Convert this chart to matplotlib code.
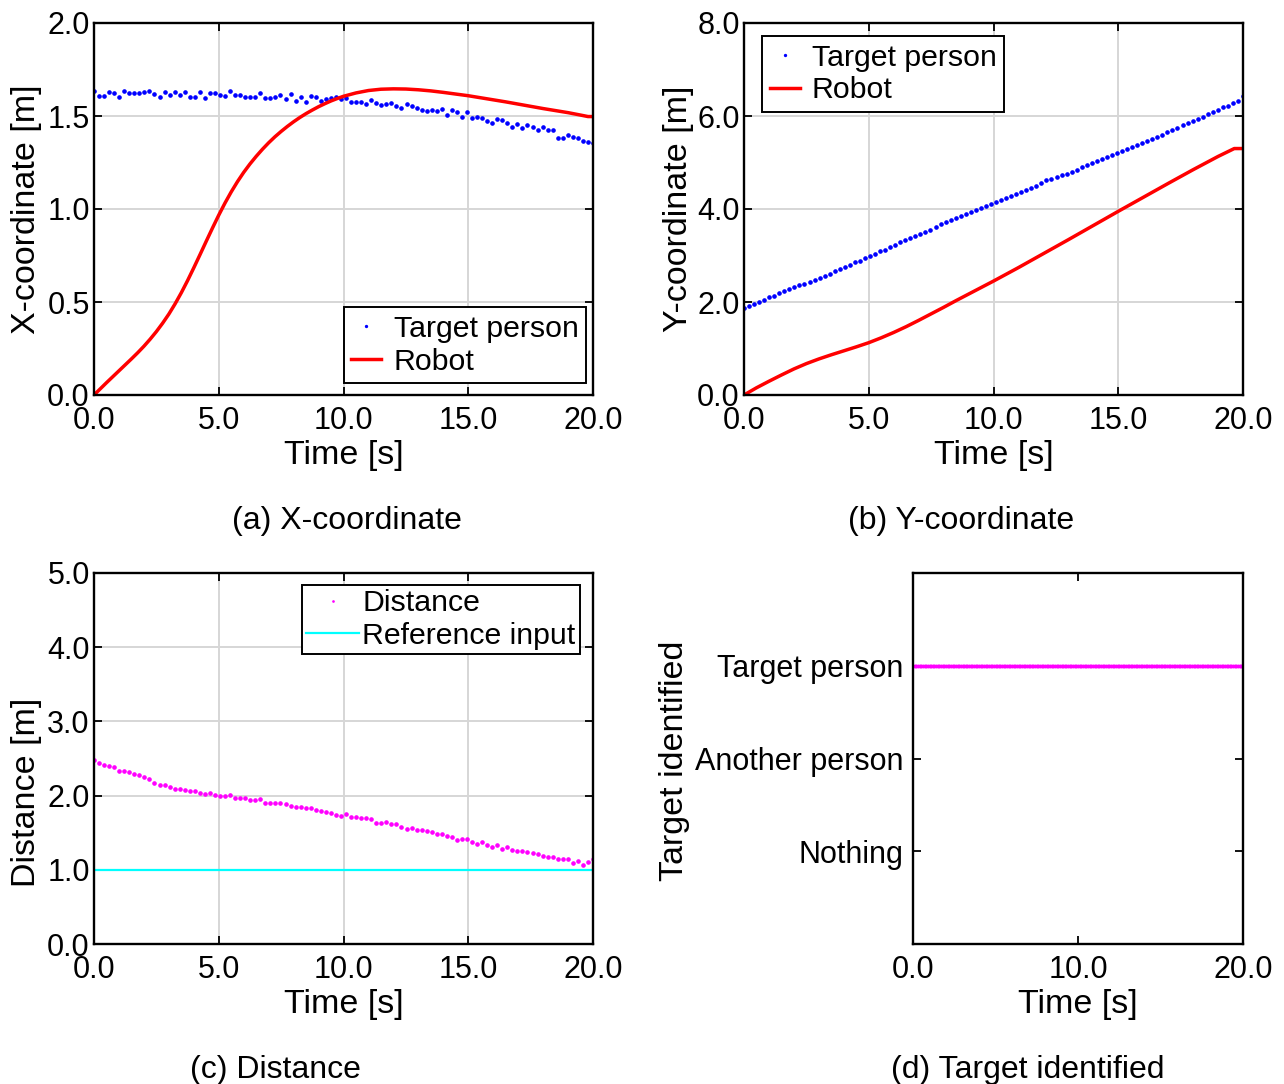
import numpy as np
import matplotlib
matplotlib.use("Agg")
import matplotlib.pyplot as plt
from matplotlib.ticker import FormatStrFormatter, MultipleLocator

plt.rcParams['font.family'] = ['Liberation Sans', 'DejaVu Sans']

# ---------------- data ----------------
# (a) X-coordinate
target_x = [1.634, 1.609, 1.607, 1.631, 1.626, 1.600, 1.636, 1.622, 1.622, 1.624,
            1.629, 1.634, 1.617, 1.600, 1.627, 1.613, 1.631, 1.615, 1.629, 1.604,
            1.604, 1.631, 1.599, 1.624, 1.626, 1.615, 1.609, 1.633, 1.613, 1.611,
            1.600, 1.604, 1.604, 1.626, 1.599, 1.599, 1.600, 1.615, 1.590, 1.618,
            1.583, 1.600, 1.577, 1.607, 1.604, 1.581, 1.593, 1.597, 1.602, 1.590,
            1.599, 1.577, 1.575, 1.577, 1.565, 1.588, 1.572, 1.559, 1.563, 1.568,
            1.556, 1.541, 1.566, 1.552, 1.541, 1.532, 1.527, 1.532, 1.527, 1.536,
            1.505, 1.532, 1.523, 1.496, 1.520, 1.487, 1.496, 1.487, 1.473, 1.461,
            1.486, 1.479, 1.461, 1.443, 1.455, 1.434, 1.452, 1.443, 1.425, 1.439,
            1.425, 1.425, 1.384, 1.384, 1.396, 1.389, 1.382, 1.367, 1.358, 1.353]
robot_t = [0.0, 0.25, 0.5, 0.75, 1.0, 1.25, 1.5, 1.75, 2.0, 2.25, 2.5, 2.75, 3.0,
           3.25, 3.5, 3.75, 4.0, 4.25, 4.5, 4.75, 5.0, 5.25, 5.5, 5.75, 6.0, 6.25,
           6.5, 6.75, 7.0, 7.25, 7.5, 7.75, 8.0, 8.25, 8.5, 8.75, 9.0, 9.25, 9.5,
           9.75, 10.0, 10.5, 11.0, 11.5, 12.0, 12.5, 13.0, 13.5, 14.0, 14.5, 15.0,
           15.5, 16.0, 16.5, 17.0, 17.5, 18.0, 18.5, 19.0, 19.5, 19.8, 20.0]
robot_x = [0.0, 0.033, 0.066, 0.098, 0.130, 0.162, 0.194, 0.227, 0.262, 0.300,
           0.341, 0.386, 0.435, 0.490, 0.550, 0.615, 0.684, 0.755, 0.827, 0.898,
           0.967, 1.032, 1.092, 1.147, 1.197, 1.242, 1.283, 1.321, 1.356, 1.388,
           1.417, 1.444, 1.469, 1.492, 1.513, 1.532, 1.550, 1.566, 1.581, 1.594,
           1.606, 1.624, 1.637, 1.644, 1.646, 1.645, 1.641, 1.635, 1.627, 1.618,
           1.609, 1.598, 1.587, 1.576, 1.564, 1.552, 1.540, 1.529, 1.518, 1.505,
           1.497, 1.497]

# (b) Y-coordinate
target_y = [1.871, 1.921, 1.957, 2.007, 2.043, 2.101, 2.137, 2.187, 2.230, 2.281,
            2.317, 2.367, 2.388, 2.424, 2.475, 2.518, 2.568, 2.604, 2.662, 2.712,
            2.763, 2.806, 2.856, 2.892, 2.942, 3.000, 3.036, 3.094, 3.122, 3.180,
            3.230, 3.281, 3.324, 3.374, 3.424, 3.468, 3.511, 3.554, 3.612, 3.669,
            3.712, 3.755, 3.806, 3.856, 3.899, 3.942, 3.986, 4.029, 4.072, 4.115,
            4.151, 4.201, 4.245, 4.288, 4.331, 4.374, 4.417, 4.453, 4.504, 4.561,
            4.619, 4.655, 4.691, 4.727, 4.763, 4.799, 4.849, 4.899, 4.942, 4.993,
            5.036, 5.079, 5.122, 5.165, 5.209, 5.252, 5.281, 5.324, 5.374, 5.410,
            5.468, 5.511, 5.554, 5.597, 5.647, 5.698, 5.748, 5.799, 5.842, 5.899,
            5.942, 5.986, 6.043, 6.094, 6.129, 6.187, 6.223, 6.273, 6.324, 6.432]
robot_y_t = [0.0, 0.5, 1.0, 1.5, 2.0, 2.5, 3.0, 3.5, 4.0, 4.5, 5.0, 5.5, 6.0, 6.5,
             7.0, 7.5, 8.0, 8.5, 9.0, 9.5, 10.0, 11.0, 12.0, 13.0, 14.0, 15.0,
             16.0, 17.0, 18.0, 19.0, 19.65, 20.0]
robot_y = [0.0, 0.155, 0.295, 0.43, 0.56, 0.675, 0.775, 0.865, 0.95, 1.035, 1.125,
           1.23, 1.345, 1.47, 1.605, 1.745, 1.885, 2.03, 2.17, 2.31, 2.45, 2.74,
           3.04, 3.34, 3.645, 3.95, 4.25, 4.55, 4.845, 5.13, 5.30, 5.30]

# (c) Distance
distance = [2.482, 2.437, 2.410, 2.405, 2.383, 2.333, 2.338, 2.315, 2.293, 2.275,
            2.257, 2.230, 2.167, 2.140, 2.140, 2.113, 2.095, 2.086, 2.077, 2.059,
            2.059, 2.041, 2.018, 2.041, 2.005, 1.991, 1.995, 2.005, 1.973, 1.973,
            1.964, 1.946, 1.937, 1.950, 1.905, 1.901, 1.896, 1.896, 1.892, 1.865,
            1.851, 1.851, 1.829, 1.838, 1.806, 1.793, 1.784, 1.761, 1.739, 1.725,
            1.748, 1.707, 1.716, 1.698, 1.694, 1.680, 1.635, 1.635, 1.644, 1.617,
            1.613, 1.581, 1.545, 1.559, 1.532, 1.532, 1.527, 1.505, 1.486, 1.477,
            1.450, 1.446, 1.405, 1.414, 1.414, 1.369, 1.351, 1.369, 1.338, 1.311,
            1.329, 1.284, 1.302, 1.261, 1.257, 1.252, 1.239, 1.225, 1.207, 1.185,
            1.167, 1.176, 1.144, 1.149, 1.144, 1.095, 1.117, 1.063, 1.099, 1.149]
reference_input = [1.0, 1.0]
reference_t = [0.0, 20.0]

# (d) Target identified (3 = Target person)
id_categories = ["Nothing", "Another person", "Target person"]
identified = [3] * 201

x_ticks_abc = [0.0, 5.0, 10.0, 15.0, 20.0]
x_ticks_d = [0.0, 10.0, 20.0]

# ---------------- figure ----------------
W, H = 1284, 1084
fig = plt.figure(figsize=(W / 100, H / 100), dpi=100)


def ax_at(l, t, r, b):
    return fig.add_axes([l / W, 1 - b / H, (r - l) / W, (b - t) / H])


axA = ax_at(94, 23, 593, 395)
axB = ax_at(744, 23, 1243, 395)
axC = ax_at(94, 573, 593, 944)
axD = ax_at(913, 573, 1243, 944)

FS_TICK = 22
FS_LAB = 24.5
FS_LEG = 21.8
FS_CAP = 23
grid_kw = dict(color='#d6d6d6', linewidth=1.4)


def style(ax, grid=True, ypad=3):
    for s in ax.spines.values():
        s.set_linewidth(1.7)
        s.set_color('black')
    ax.tick_params(direction='in', top=True, right=True, length=6, width=1.3,
                   labelsize=FS_TICK, colors='black')
    ax.tick_params(axis='x', pad=8)
    ax.tick_params(axis='y', pad=ypad)
    if grid:
        ax.grid(True, **grid_kw)
        ax.set_axisbelow(True)


legend_kw = dict(fontsize=FS_LEG, frameon=True, fancybox=False, framealpha=1,
                 edgecolor='black', borderaxespad=0, labelspacing=0.15,
                 borderpad=0.25, handlelength=1.0, handletextpad=0.4)

# (a)
tA = np.linspace(0, 20, len(target_x))
axA.plot(tA, target_x, linestyle='none', marker='o', ms=2.3, color='blue',
         label='Target person')
axA.plot(robot_t, robot_x, color='red', lw=2.5, label='Robot')
axA.set_xlim(0, 20)
axA.set_ylim(0, 2)
axA.set_xticks(x_ticks_abc)
axA.yaxis.set_major_locator(MultipleLocator(0.5))
axA.xaxis.set_major_formatter(FormatStrFormatter('%.1f'))
axA.yaxis.set_major_formatter(FormatStrFormatter('%.1f'))
style(axA)
axA.set_xlabel('Time [s]', fontsize=FS_LAB)
axA.set_ylabel('X-coordinate [m]', fontsize=FS_LAB)
axA.xaxis.set_label_coords(0.5, -0.12)
axA.yaxis.set_label_coords(-0.104, 0.5)
legA = axA.legend(loc='lower right', bbox_to_anchor=(0.986, 0.032), markerscale=0.6, **legend_kw)
legA.get_frame().set_linewidth(1.4)

# (b)
tB = np.linspace(0, 20, len(target_y))
axB.plot(tB, target_y, linestyle='none', marker='o', ms=2.3, color='blue',
         label='Target person')
axB.plot(robot_y_t, robot_y, color='red', lw=2.5, label='Robot')
axB.set_xlim(0, 20)
axB.set_ylim(0, 8)
axB.set_xticks(x_ticks_abc)
axB.yaxis.set_major_locator(MultipleLocator(2.0))
axB.xaxis.set_major_formatter(FormatStrFormatter('%.1f'))
axB.yaxis.set_major_formatter(FormatStrFormatter('%.1f'))
style(axB)
axB.set_xlabel('Time [s]', fontsize=FS_LAB)
axB.set_ylabel('Y-coordinate [m]', fontsize=FS_LAB)
axB.xaxis.set_label_coords(0.5, -0.12)
axB.yaxis.set_label_coords(-0.100, 0.5)
legB = axB.legend(loc='upper left', bbox_to_anchor=(0.036, 0.965), markerscale=0.6, **legend_kw)
legB.get_frame().set_linewidth(1.4)

# (c)
tC = np.linspace(0, 20, len(distance))
axC.plot(tC, distance, linestyle='none', marker='o', ms=2.3, color='magenta',
         label='Distance')
axC.plot(reference_t, reference_input, color='cyan', lw=1.6, label='Reference input')
axC.set_xlim(0, 20)
axC.set_ylim(0, 5)
axC.set_xticks(x_ticks_abc)
axC.yaxis.set_major_locator(MultipleLocator(1.0))
axC.xaxis.set_major_formatter(FormatStrFormatter('%.1f'))
axC.yaxis.set_major_formatter(FormatStrFormatter('%.1f'))
style(axC)
axC.set_xlabel('Time [s]', fontsize=FS_LAB)
axC.set_ylabel('Distance [m]', fontsize=FS_LAB)
axC.xaxis.set_label_coords(0.5, -0.12)
axC.yaxis.set_label_coords(-0.104, 0.41)
legC_kw = dict(legend_kw)
legC_kw.update(handlelength=1.75, handletextpad=0.1, borderpad=0.15)
legC = axC.legend(loc='upper right', bbox_to_anchor=(0.974, 0.968), markerscale=0.4, **legC_kw)
legC.get_frame().set_linewidth(1.4)

# (d)
tD = np.linspace(0, 20, len(identified))
axD.plot(tD, identified, linestyle='none', marker='o', ms=1.8, color='magenta')
axD.set_xlim(0, 20)
axD.set_ylim(0, 4)
axD.set_xticks(x_ticks_d)
axD.set_yticks([1, 2, 3])
axD.set_yticklabels(id_categories)
axD.xaxis.set_major_formatter(FormatStrFormatter('%.1f'))
style(axD, grid=False, ypad=7)
axD.set_xlabel('Time [s]', fontsize=FS_LAB)
axD.set_ylabel('Target identified', fontsize=FS_LAB)
axD.xaxis.set_label_coords(0.5, -0.12)
axD.yaxis.set_label_coords(-0.675, 0.493)

# captions
fig.text(347 / W, 1 - 521 / H, '(a) X-coordinate', fontsize=FS_CAP, ha='center', va='center')
fig.text(961 / W, 1 - 521 / H, '(b) Y-coordinate', fontsize=FS_CAP, ha='center', va='center')
fig.text(275 / W, 1 - 1070 / H, '(c) Distance', fontsize=FS_CAP, ha='center', va='center')
fig.text(1028 / W, 1 - 1070 / H, '(d) Target identified', fontsize=FS_CAP, ha='center', va='center')

fig.savefig('out.png', dpi=100)
